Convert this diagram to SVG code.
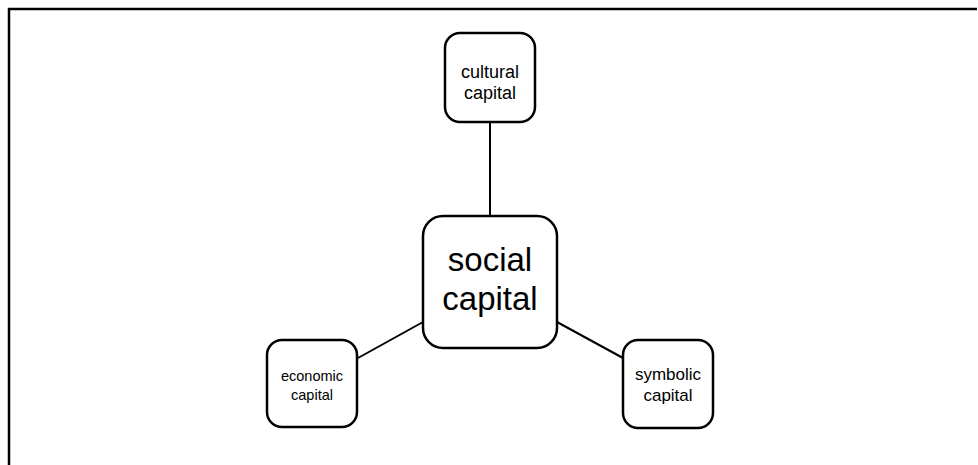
<svg xmlns="http://www.w3.org/2000/svg" width="978" height="465" viewBox="0 0 978 465">
<style>
.box{fill:#fff;stroke:#000;stroke-width:2.5}
.t{font-family:"Liberation Sans",Arial,sans-serif;fill:#000;text-anchor:middle}
.c{stroke:#000;stroke-width:2;fill:none}
</style>
<rect width="978" height="465" fill="#fff"/>
<path d="M9,465 V9 H977" fill="none" stroke="#000" stroke-width="2.5"/>
<g id="connectors">
<line class="c" x1="490" y1="122" x2="490" y2="216"/>
<line class="c" x1="423" y1="322" x2="358" y2="358"/>
<line class="c" x1="557" y1="322" x2="623" y2="358"/>
</g>
<g id="cultural">
<rect class="box" x="445" y="33" width="90" height="89" rx="15"/>
<text class="t" font-size="18"><tspan x="490" y="78">cultural</tspan><tspan x="490" y="99">capital</tspan></text>
</g>
<g id="social">
<rect class="box" x="423" y="216" width="134" height="132" rx="20"/>
<text class="t" font-size="33"><tspan x="490" y="271">social</tspan><tspan x="490" y="310">capital</tspan></text>
</g>
<g id="economic">
<rect class="box" x="267" y="340" width="90" height="87" rx="15"/>
<text class="t" font-size="14.5"><tspan x="312" y="381">economic</tspan><tspan x="312" y="400">capital</tspan></text>
</g>
<g id="symbolic">
<rect class="box" x="623" y="340" width="90" height="88" rx="15"/>
<text class="t" font-size="17"><tspan x="668" y="380">symbolic</tspan><tspan x="668" y="401">capital</tspan></text>
</g>
</svg>
